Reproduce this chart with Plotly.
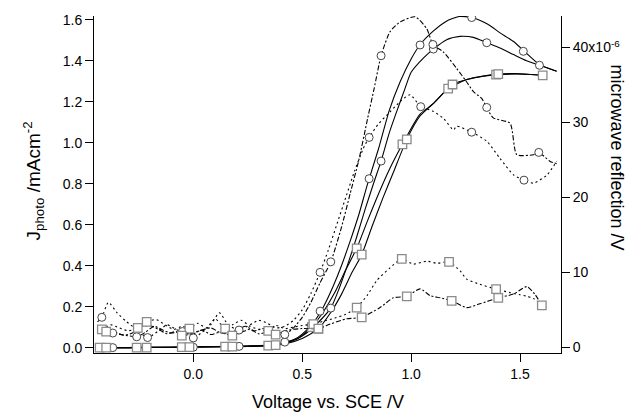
import plotly.graph_objects as go

# ---------------- data ----------------
# Photocurrent J (left axis, mA cm^-2) -- solid lines
A_V = [-0.44, -0.30, -0.10, 0.10, 0.25, 0.35, 0.42, 0.48, 0.52, 0.56, 0.60, 0.64, 0.68, 0.72, 0.76, 0.80,
       0.85, 0.90, 0.95, 1.00, 1.04, 1.10, 1.16, 1.22, 1.28, 1.35, 1.41, 1.47, 1.52, 1.59, 1.668]
A_J = [0.0, 0.0, 0.002, 0.005, 0.008, 0.012, 0.022, 0.050, 0.085, 0.135, 0.205, 0.295, 0.40, 0.52, 0.65, 0.80,
       0.97, 1.16, 1.30, 1.41, 1.478, 1.544, 1.593, 1.617, 1.612, 1.58, 1.536, 1.495, 1.447, 1.382, 1.35]
A_mV = [-0.37, 0.0, 0.582, 0.807, 1.041, 1.278, 1.515]
A_mJ = [0.0, 0.002, 0.178, 0.825, 1.478, 1.612, 1.447]

B_V = [-0.44, -0.30, -0.10, 0.10, 0.21, 0.35, 0.42, 0.48, 0.53, 0.58, 0.631, 0.67, 0.71, 0.75, 0.79, 0.83,
       0.862, 0.90, 0.934, 0.97, 1.00, 1.056, 1.102, 1.163, 1.224, 1.286, 1.347, 1.408, 1.47, 1.53, 1.589, 1.668]
B_J = [0.0, 0.0, 0.002, 0.004, 0.006, 0.010, 0.027, 0.045, 0.08, 0.13, 0.193, 0.29, 0.41, 0.54, 0.68, 0.81,
       0.911, 1.05, 1.154, 1.26, 1.345, 1.414, 1.458, 1.504, 1.52, 1.515, 1.489, 1.463, 1.431, 1.401, 1.379, 1.35]
B_mV = [0.21, 0.42, 0.631, 0.862, 1.102, 1.347, 1.589]
B_mJ = [0.006, 0.027, 0.193, 0.911, 1.458, 1.489, 1.379]

C_V = [-0.44, -0.30, -0.10, 0.10, 0.25, 0.35, 0.42, 0.48, 0.544, 0.60, 0.65, 0.70, 0.75, 0.80, 0.85, 0.90,
       0.96, 1.04, 1.10, 1.17, 1.255, 1.33, 1.39, 1.485, 1.55, 1.604]
C_J = [0.0, 0.0, 0.002, 0.004, 0.006, 0.010, 0.020, 0.045, 0.10, 0.18, 0.27, 0.38, 0.485, 0.62, 0.75, 0.87,
       0.993, 1.139, 1.19, 1.265, 1.309, 1.325, 1.333, 1.336, 1.334, 1.33]
C_mV = [-0.43, -0.26, -0.053, 0.146, 0.344, 0.544, 0.75, 0.96, 1.17, 1.39, 1.604]
C_mJ = [0.0, 0.0, 0.002, 0.005, 0.010, 0.10, 0.485, 0.993, 1.265, 1.333, 1.33]

D_V = [-0.44, -0.30, -0.10, 0.10, 0.25, 0.35, 0.42, 0.50, 0.574, 0.63, 0.68, 0.73, 0.773, 0.82, 0.87, 0.92,
       0.98, 1.04, 1.10, 1.19, 1.26, 1.33, 1.40, 1.48, 1.55, 1.604]
D_J = [0.0, 0.0, 0.002, 0.004, 0.006, 0.010, 0.018, 0.045, 0.092, 0.17, 0.26, 0.37, 0.454, 0.59, 0.73, 0.86,
       1.017, 1.13, 1.19, 1.285, 1.31, 1.326, 1.336, 1.338, 1.334, 1.33]
D_mV = [-0.40, -0.214, -0.018, 0.179, 0.378, 0.574, 0.773, 0.98, 1.19, 1.40]
D_mJ = [0.0, 0.0, 0.002, 0.005, 0.012, 0.092, 0.454, 1.017, 1.285, 1.336]

# Microwave reflection (right axis, units of 1e-6 V) -- broken lines
E_V = [-0.44, -0.40, -0.37, -0.33, -0.29, -0.26, -0.22, -0.18, -0.14, -0.10, -0.05, -0.01, 0.03, 0.08, 0.12,
       0.16, 0.20, 0.24, 0.28, 0.32, 0.36, 0.42, 0.46, 0.50, 0.54, 0.58, 0.631, 0.68, 0.72, 0.76, 0.80, 0.83,
       0.862, 0.903, 0.949, 1.018, 1.072, 1.10, 1.148, 1.209, 1.255, 1.286, 1.324, 1.347, 1.377, 1.454,
       1.485, 1.562, 1.586, 1.638, 1.668]
E_M = [2.4, 2.1, 1.9, 1.7, 1.5, 1.4, 2.0, 2.8, 2.3, 1.9, 2.1, 1.7, 2.2, 2.6, 2.0,
       1.8, 2.3, 2.8, 2.2, 2.5, 2.0, 1.7, 2.6, 4.0, 6.0, 8.5, 11.4, 16.0, 20.5, 25.0, 30.5, 34.5,
       38.9, 42.1, 43.4, 44.1, 42.5, 40.4, 39.4, 37.2, 35.4, 34.1, 33.2, 32.0, 30.6, 29.9,
       25.7, 25.7, 26.0, 24.8, 24.5]
E_mV = [-0.37, -0.26, -0.05, 0.42, 0.631, 0.862, 1.10, 1.347, 1.586]
E_mM = [1.9, 1.4, 2.1, 1.7, 11.4, 38.9, 40.4, 32.0, 26.0]

F_V = [-0.44, -0.42, -0.39, -0.35, -0.31, -0.27, -0.21, -0.16, -0.12, -0.08, -0.04, 0.0, 0.04, 0.08, 0.12,
       0.16, 0.21, 0.26, 0.30, 0.34, 0.38, 0.42, 0.46, 0.50, 0.54, 0.582, 0.62, 0.66, 0.70, 0.74, 0.78,
       0.807, 0.85, 0.903, 0.95, 0.995, 1.044, 1.10, 1.15, 1.194, 1.209, 1.278, 1.347, 1.408, 1.47, 1.518,
       1.562, 1.624, 1.668]
F_M = [3.4, 4.0, 6.0, 4.6, 3.5, 2.6, 1.3, 2.2, 3.0, 2.4, 1.8, 1.25, 2.0, 3.0, 4.6,
       3.0, 2.3, 3.0, 3.6, 3.2, 2.6, 2.8, 3.6, 5.0, 7.2, 10.0, 13.0, 16.5, 20.0, 23.5, 26.5,
       28.0, 29.8, 31.4, 32.8, 33.7, 32.1, 31.5, 30.5, 29.0, 29.5, 28.7, 27.5, 25.2, 23.0, 22.3,
       21.9, 23.0, 24.8]
F_mV = [-0.42, -0.21, 0.0, 0.21, 0.582, 0.807, 1.044, 1.278, 1.518]
F_mM = [4.0, 1.3, 1.25, 2.3, 10.0, 28.0, 32.1, 28.7, 22.3]

G_V = [-0.44, -0.42, -0.38, -0.34, -0.30, -0.255, -0.214, -0.17, -0.13, -0.09, -0.05, -0.018, 0.02, 0.06,
       0.10, 0.146, 0.18, 0.22, 0.26, 0.30, 0.344, 0.38, 0.42, 0.46, 0.50, 0.551, 0.60, 0.65, 0.70, 0.75,
       0.80, 0.842, 0.903, 0.957, 1.01, 1.072, 1.118, 1.174, 1.225, 1.255, 1.316, 1.39, 1.454, 1.50,
       1.531, 1.562, 1.60]
G_M = [2.0, 2.4, 3.0, 2.6, 2.2, 2.6, 3.4, 3.7, 3.0, 2.4, 2.8, 2.5, 3.2, 2.6,
       3.8, 2.5, 3.0, 3.6, 2.8, 2.4, 2.2, 2.9, 2.5, 2.7, 2.9, 3.1, 3.5, 3.9, 4.4, 5.3,
       7.0, 8.9, 10.6, 11.8, 11.1, 11.5, 11.2, 11.4, 10.2, 9.1, 8.4, 7.76, 7.3, 7.0,
       6.8, 6.5, 5.6]
G_mV = [-0.42, -0.214, -0.018, 0.146, 0.344, 0.551, 0.75, 0.957, 1.174, 1.39, 1.60]
G_mM = [2.4, 3.4, 2.5, 2.5, 2.2, 3.1, 5.3, 11.8, 11.4, 7.76, 5.6]

H_V = [-0.44, -0.40, -0.36, -0.32, -0.28, -0.255, -0.20, -0.16, -0.12, -0.08, -0.053, 0.0, 0.04, 0.08,
       0.12, 0.179, 0.22, 0.26, 0.30, 0.34, 0.378, 0.42, 0.46, 0.50, 0.574, 0.628, 0.704, 0.773, 0.857,
       0.918, 0.98, 1.041, 1.087, 1.133, 1.186, 1.255, 1.316, 1.40, 1.47, 1.531, 1.57, 1.60]
H_M = [2.2, 2.1, 2.0, 1.6, 1.9, 2.6, 2.9, 2.4, 1.8, 2.1, 1.55, 1.9, 2.3, 1.7,
       2.0, 1.55, 2.0, 2.4, 1.8, 2.0, 1.7, 2.2, 2.4, 2.5, 2.5, 3.1, 3.8, 4.0, 5.3,
       6.6, 6.8, 7.8, 6.9, 6.6, 6.2, 5.3, 5.8, 6.6, 7.1, 8.1, 7.0, 5.6]
H_mV = [-0.40, -0.255, -0.053, 0.179, 0.378, 0.574, 0.773, 0.98, 1.186, 1.40]
H_mM = [2.1, 2.6, 1.55, 1.55, 1.7, 2.5, 4.0, 6.8, 6.2, 6.6]

x_ticks = [0.0, 0.5, 1.0, 1.5]
y_ticks = [0.0, 0.2, 0.4, 0.6, 0.8, 1.0, 1.2, 1.4, 1.6]
y2_ticks = [0, 10, 20, 30, 40]
y2_ticktext = ["0", "10", "20", "30", "40x10<sup>-6</sup>"]

# ---------------- figure ----------------
FONT = "Liberation Sans, Arial, sans-serif"
fig = go.Figure()

def line(xv, yv, axis, dash, width=1.1):
    fig.add_trace(go.Scatter(x=xv, y=yv, mode="lines", yaxis=axis, hoverinfo="skip",
                             line=dict(color="black", width=width, dash=dash, shape="spline", smoothing=0.6),
                             showlegend=False))

def marks(xv, yv, axis, symbol):
    if symbol == "circle":
        mk = dict(symbol="circle", size=8, color="white", line=dict(color="#444444", width=1))
    else:
        mk = dict(symbol="square", size=8.5, color="white", line=dict(color="#8a8a8a", width=1.3))
    fig.add_trace(go.Scatter(x=xv, y=yv, mode="markers", yaxis=axis, marker=mk, showlegend=False))

scale = 1e-6
def sc(v):
    return [a * scale for a in v]

# microwave lines (right axis)
line(E_V, sc(E_M), "y2", "5px,2px,2px,2px")
line(F_V, sc(F_M), "y2", "2px,3px")
line(G_V, sc(G_M), "y2", "2px,3px")
line(H_V, sc(H_M), "y2", "5px,2px,2px,2px")
# photocurrent lines (left axis)
line(A_V, A_J, "y", "solid")
line(B_V, B_J, "y", "solid")
line(C_V, C_J, "y", "solid")
line(D_V, D_J, "y", "solid")

marks(E_mV, sc(E_mM), "y2", "circle")
marks(F_mV, sc(F_mM), "y2", "circle")
marks(G_mV, sc(G_mM), "y2", "square")
marks(H_mV, sc(H_mM), "y2", "square")
marks(A_mV, A_mJ, "y", "circle")
marks(B_mV, B_mJ, "y", "circle")
marks(C_mV, C_mJ, "y", "square")
marks(D_mV, D_mJ, "y", "square")

axis_common = dict(showgrid=False, zeroline=False, showline=True, linecolor="black", linewidth=1,
                   ticks="outside", ticklen=8, tickwidth=1, tickcolor="black",
                   tickfont=dict(family=FONT, size=14, color="black"))

fig.update_layout(
    width=632, height=412,
    margin=dict(l=94, r=71, t=14, b=59),
    paper_bgcolor="white", plot_bgcolor="white",
    font=dict(family=FONT, color="black"),
    xaxis=dict(range=[-0.456, 1.688], tickvals=x_ticks, tickformat=".1f", **axis_common),
    yaxis=dict(range=[-0.0263, 1.6195], tickvals=y_ticks, tickformat=".1f", **axis_common),
    yaxis2=dict(range=[-0.76e-6, 44.2e-6], overlaying="y", side="right",
                tickvals=sc(y2_ticks), ticktext=y2_ticktext, **axis_common),
    annotations=[
        dict(text="Voltage vs. SCE /V", xref="paper", yref="paper", x=0.5, y=-0.146,
             xanchor="center", yanchor="middle", showarrow=False, font=dict(family=FONT, size=18)),
        dict(text="J<sub>photo</sub> /mAcm<sup>-2</sup>", xref="paper", yref="paper", x=-0.13, y=0.51,
             xanchor="center", yanchor="middle", textangle=-90, showarrow=False,
             font=dict(family=FONT, size=19)),
        dict(text="microwave reflection /V", xref="paper", yref="paper", x=1.12, y=0.58,
             xanchor="center", yanchor="middle", textangle=90, showarrow=False,
             font=dict(family=FONT, size=18)),
    ],
)

fig.write_html("out.html")
